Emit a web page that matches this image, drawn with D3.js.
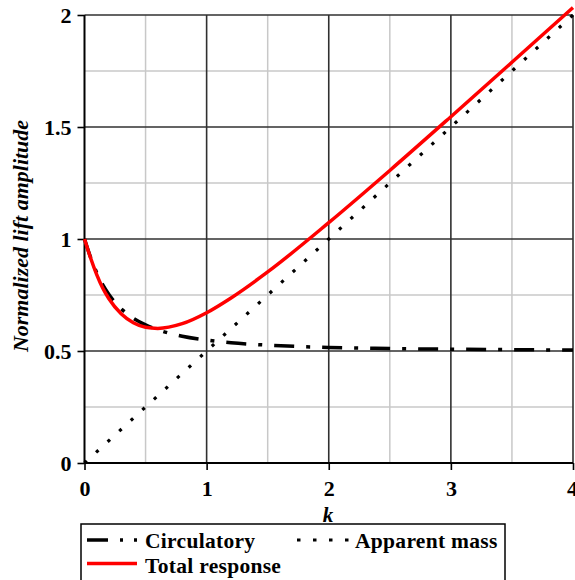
<!DOCTYPE html>
<html><head><meta charset="utf-8">
<script src="https://cdn.jsdelivr.net/npm/d3@7"></script>
<style>
body{margin:0;background:#fff;}
svg{display:block;}
text{font-family:"Liberation Serif","Times New Roman",serif;}
</style></head>
<body>
<svg id="c" width="575" height="580"></svg>
<script>
// Data
const kValues = [0, 0.05, 0.1, 0.15, 0.2, 0.3, 0.4, 0.5, 0.6, 0.8, 1.0, 1.2, 1.5, 2.0, 2.5, 3.0, 3.5, 4.0];
const circulatory = [1.0, 0.918, 0.850, 0.795, 0.752, 0.689, 0.646, 0.617, 0.595, 0.566, 0.549, 0.537, 0.526, 0.516, 0.511, 0.508, 0.506, 0.504];
const totalResponse = [1.0, 0.915, 0.841, 0.780, 0.733, 0.666, 0.626, 0.606, 0.601, 0.622, 0.671, 0.737, 0.853, 1.073, 1.306, 1.546, 1.789, 2.033];
const apparentK = [0, 1, 2, 3, 4];
const apparentMass = [0, 0.5, 1.0, 1.5, 2.0];
const xTicks = [0, 1, 2, 3, 4];
const yTicks = [0, 0.5, 1, 1.5, 2];
const xMinor = [0.5, 1.5, 2.5, 3.5];
const yMinor = [0.25, 0.75, 1.25, 1.75];
const yTickLabels = ["0", "0.5", "1", "1.5", "2"];
const legendLabels = ["Circulatory", "Apparent mass", "Total response"];

const svg = d3.select("#c");
const x = d3.scaleLinear().domain([0, 4]).range([84.5, 573]);
const y = d3.scaleLinear().domain([0, 2]).range([463, 15]);
const serif = '"Liberation Serif", "Times New Roman", serif';

// minor grid
svg.append("g").selectAll("line").data(xMinor).join("line")
  .attr("x1", d => x(d)).attr("x2", d => x(d)).attr("y1", y(0)).attr("y2", y(2))
  .attr("stroke", "#c8c8c8").attr("stroke-width", 1.5);
svg.append("g").selectAll("line").data(yMinor).join("line")
  .attr("y1", d => y(d)).attr("y2", d => y(d)).attr("x1", x(0)).attr("x2", x(4))
  .attr("stroke", "#c8c8c8").attr("stroke-width", 1.5);

// major grid
svg.append("g").selectAll("line").data(xTicks.slice(1)).join("line")
  .attr("x1", d => x(d)).attr("x2", d => x(d)).attr("y1", y(0)).attr("y2", y(2))
  .attr("stroke", "#303030").attr("stroke-width", 1.6);
svg.append("g").selectAll("line").data(yTicks.slice(1)).join("line")
  .attr("y1", d => y(d)).attr("y2", d => y(d)).attr("x1", x(0)).attr("x2", x(4))
  .attr("stroke", "#303030").attr("stroke-width", 1.6);

// axes
const xAxis = d3.axisBottom(x).tickValues(xTicks).tickSize(7).tickPadding(0).tickFormat(d3.format("d"));
const yAxis = d3.axisLeft(y).tickValues(yTicks).tickSize(7).tickPadding(6).tickFormat((d, i) => yTickLabels[i]);
const gx = svg.append("g").attr("transform", `translate(0,${y(0)})`).call(xAxis);
const gy = svg.append("g").attr("transform", `translate(${x(0)},0)`).call(yAxis);
[gx, gy].forEach(g => {
  g.attr("font-family", serif);
  g.select(".domain").attr("stroke", "#000").attr("stroke-width", 2);
  g.selectAll(".tick line").attr("stroke", "#000").attr("stroke-width", 1.6);
  g.selectAll(".tick text").attr("fill", "#000")
    .style("font-family", serif).style("font-size", "22px").style("font-weight", "bold");
});
gy.select(".domain").attr("d", `M0,${y(0)}V${y(2)}`);
gx.select(".domain").attr("d", `M${x(0)},0H${x(4)}`);
gx.selectAll(".tick text").attr("y", 25).attr("dy", "0.35em");
gx.selectAll(".tick text").filter(d => d === 4).attr("dx", "-1px");
gy.selectAll(".tick text").attr("dy", "0.35em");

// axis titles
svg.append("text").attr("x", 328).attr("y", 515).attr("dy", "0.35em").attr("text-anchor", "middle")
  .style("font-size", "21px").style("font-weight", "bold").style("font-style", "italic").text("k");
svg.append("text").attr("transform", "translate(28,236) rotate(-90)").attr("text-anchor", "middle")
  .style("font-size", "22px").style("font-weight", "bold").style("font-style", "italic")
  .text("Normalized lift amplitude");

// clip
svg.append("clipPath").attr("id", "clip").append("rect")
  .attr("x", 83).attr("y", 4).attr("width", 492).attr("height", 466);
const plot = svg.append("g").attr("clip-path", "url(#clip)");

const line = d3.line().x(d => x(d[0])).y(d => y(d[1])).curve(d3.curveMonotoneX);

plot.append("path").datum(apparentK.map((k, i) => [k, apparentMass[i]]))
  .attr("d", d3.line().x(d => x(d[0])).y(d => y(d[1])))
  .attr("fill", "none").attr("stroke", "#000").attr("stroke-width", 3.2)
  .attr("stroke-dasharray", "3.2,12.5");

plot.append("path").datum(kValues.map((k, i) => [k, circulatory[i]]))
  .attr("d", line).attr("fill", "none").attr("stroke", "#000").attr("stroke-width", 3.5)
  .attr("stroke-dasharray", "20,12,4,12");

plot.append("path").datum(kValues.map((k, i) => [k, totalResponse[i]]))
  .attr("d", line).attr("fill", "none").attr("stroke", "#ff0000").attr("stroke-width", 3.5);

// legend
const lg = svg.append("g");
lg.append("rect").attr("x", 81).attr("y", 524).attr("width", 424).attr("height", 62)
  .attr("fill", "#fff").attr("stroke", "#000").attr("stroke-width", 1.5);
lg.append("line").attr("x1", 87).attr("x2", 137).attr("y1", 540).attr("y2", 540)
  .attr("stroke", "#000").attr("stroke-width", 3.5).attr("stroke-dasharray", "21,12,3,11");
lg.append("line").attr("x1", 297).attr("x2", 351).attr("y1", 540).attr("y2", 540)
  .attr("stroke", "#000").attr("stroke-width", 3.2).attr("stroke-dasharray", "3.5,12.5");
lg.append("line").attr("x1", 87).attr("x2", 137).attr("y1", 563.5).attr("y2", 563.5)
  .attr("stroke", "#ff0000").attr("stroke-width", 3.5);
const lt = [[145, 548, legendLabels[0]], [355, 548, legendLabels[1]], [145, 573, legendLabels[2]]];
lg.selectAll("text.lt").data(lt).join("text").attr("class", "lt")
  .attr("x", d => d[0]).attr("y", d => d[1])
  .style("font-size", "21.5px").style("font-weight", "bold").style("letter-spacing", "0.3px").text(d => d[2]);
</script>
</body></html>
